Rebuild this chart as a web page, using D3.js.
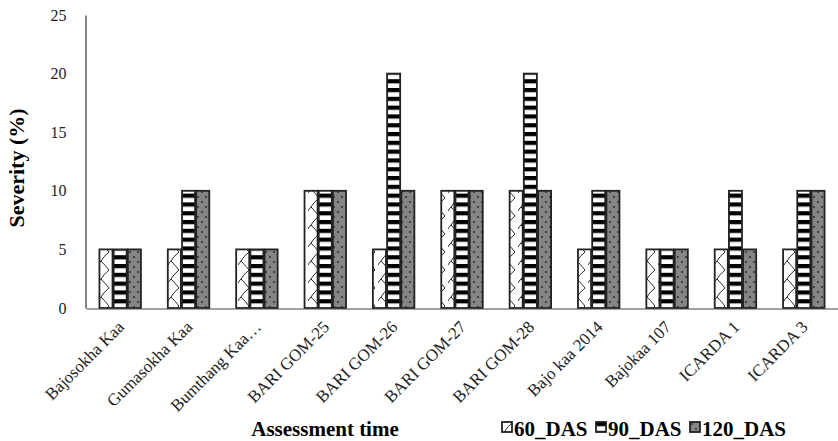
<!DOCTYPE html>
<html>
<head>
<meta charset="utf-8">
<script src="https://cdn.jsdelivr.net/npm/d3@7"></script>
<style>
  body { margin: 0; background: #fff; }
  svg text { font-family: "Liberation Serif", "Times New Roman", serif !important; }
</style>
</head>
<body>
<div id="chart"></div>
<script>
// chart data
const categories = ["Bajosokha Kaa", "Gumasokha Kaa", "Bumthang Kaa\u2026", "BARI GOM-25", "BARI GOM-26",
    "BARI GOM-27", "BARI GOM-28", "Bajo kaa 2014", "Bajokaa 107", "ICARDA 1", "ICARDA 3"];
const seriesNames = ["60_DAS", "90_DAS", "120_DAS"];
const das60 = [5, 5, 5, 10, 5, 10, 10, 5, 5, 5, 5];
const das90 = [5, 10, 5, 10, 20, 10, 20, 10, 5, 10, 10];
const das120 = [5, 10, 5, 10, 10, 10, 10, 10, 5, 5, 10];
const yTicks = [0, 5, 10, 15, 20, 25];

const w = 838, h = 441;
const plotL = 86, plotR = 838, plotT = 15, plotB = 308;
const serif = "'Liberation Serif', 'Times New Roman', serif";

const svg = d3.select("#chart")
    .append("svg")
    .attr("width", w)
    .attr("height", h)
    .style("font-family", serif);

// patterns for the three series
const defs = svg.append("defs");

const p60 = defs.append("pattern")
    .attr("id", "p60")
    .attr("patternUnits", "userSpaceOnUse")
    .attr("width", 14).attr("height", 18);
p60.append("rect").attr("width", 14).attr("height", 18).attr("fill", "#fff");
p60.append("path")
    .attr("d", "M11,0 Q5,5 3,9 Q7,13 11,18 M3,9 Q1,11 0,13")
    .attr("fill", "none").attr("stroke", "#111").attr("stroke-width", 0.9);

const p90 = defs.append("pattern")
    .attr("id", "p90")
    .attr("patternUnits", "userSpaceOnUse")
    .attr("width", 14).attr("height", 8.8);
p90.append("rect").attr("width", 14).attr("height", 8.8).attr("fill", "#fff");
p90.append("rect").attr("width", 14).attr("height", 4.2).attr("fill", "#000");

const p120 = defs.append("pattern")
    .attr("id", "p120")
    .attr("patternUnits", "userSpaceOnUse")
    .attr("width", 8).attr("height", 10);
p120.append("rect").attr("width", 8).attr("height", 10).attr("fill", "#858585");
p120.append("circle").attr("cx", 2).attr("cy", 2).attr("r", 0.9).attr("fill", "#222");
p120.append("circle").attr("cx", 6).attr("cy", 7).attr("r", 0.9).attr("fill", "#222");

const fills = { "60_DAS": "url(#p60)", "90_DAS": "url(#p90)", "120_DAS": "url(#p120)" };
const values = { "60_DAS": das60, "90_DAS": das90, "120_DAS": das120 };

// scales
const xScale = d3.scaleBand()
    .domain(categories)
    .range([plotL, plotR])
    .paddingInner(0.36)
    .paddingOuter(0.18);

const xInner = d3.scaleBand()
    .domain(seriesNames)
    .range([0, xScale.bandwidth()])
    .padding(0.08);

const yScale = d3.scaleLinear()
    .domain([0, 25])
    .range([plotB, plotT]);

// y axis
const yAxis = d3.axisLeft(yScale).tickValues(yTicks).tickSize(0).tickPadding(19);
const gy = svg.append("g")
    .attr("transform", "translate(" + (plotL - 0.5) + ",0)")
    .call(yAxis)
    .attr("font-family", serif)
    .attr("font-size", 16);
gy.select(".domain").attr("stroke", "#333").attr("stroke-width", 1.2);
gy.selectAll("text").attr("fill", "#222");

// bars
categories.forEach((cat, i) => {
    seriesNames.forEach(s => {
        const v = values[s][i];
        svg.append("rect")
            .attr("x", xScale(cat) + xInner(s))
            .attr("y", yScale(v))
            .attr("width", xInner.bandwidth())
            .attr("height", yScale(0) - yScale(v))
            .attr("fill", fills[s])
            .attr("stroke", "#222")
            .attr("stroke-width", 1.8);
    });
});

// x axis
const xAxis = d3.axisBottom(xScale).tickSize(0).tickFormat("");
const gx = svg.append("g")
    .attr("transform", "translate(0," + (plotB + 0.5) + ")")
    .call(xAxis);
gx.select(".domain").attr("stroke", "#444").attr("stroke-width", 1.2);

// category labels
svg.selectAll(".cat")
    .data(categories)
    .enter()
    .append("text")
    .attr("class", "cat")
    .attr("text-anchor", "end")
    .attr("font-size", 17)
    .attr("fill", "#222")
    .attr("transform", d => "translate(" + (xScale(d) + xScale.bandwidth() / 2 + 5) + "," + (plotB + 20) + ") rotate(-45)")
    .text(d => d);

// axis titles
svg.append("text")
    .attr("x", 325)
    .attr("y", 436)
    .attr("text-anchor", "middle")
    .attr("font-size", 21)
    .attr("font-weight", "bold")
    .text("Assessment time");

svg.append("text")
    .attr("transform", "translate(24,168) rotate(-90)")
    .attr("text-anchor", "middle")
    .attr("font-size", 22)
    .attr("font-weight", "bold")
    .text("Severity (%)");

// legend
const legendX = [502, 596, 690];
seriesNames.forEach((s, i) => {
    const g = svg.append("g").attr("transform", "translate(" + legendX[i] + ",422)");
    g.append("rect")
        .attr("width", 10).attr("height", 10)
        .attr("fill", fills[s])
        .attr("stroke", "#222")
        .attr("stroke-width", 1.8);
    g.append("text")
        .attr("x", 12)
        .attr("y", 14)
        .attr("font-size", 21)
        .attr("font-weight", "bold")
        .text(s);
});
</script>
</body>
</html>
